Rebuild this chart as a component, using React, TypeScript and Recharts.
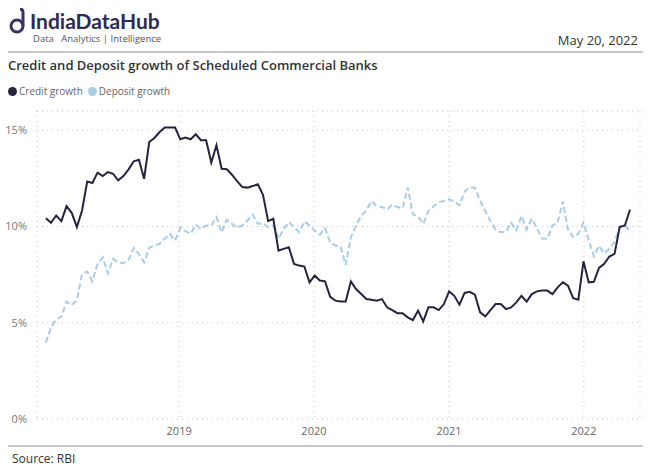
import React from "react";
import { CartesianGrid, Line, LineChart, XAxis, YAxis } from "recharts";

// fortnightly reporting dates, 5 Jan 2018 to 6 May 2022
const firstDate = Date.UTC(2018, 0, 5);
const fortnight = 14 * 24 * 3600 * 1000;

const creditGrowth = [
	10.43, 10.19, 10.57, 10.28, 11.06, 10.71, 9.97, 10.83, 12.34, 12.26,
	12.8, 12.62, 12.83, 12.74, 12.4, 12.62, 12.97, 13.39, 13.47, 12.48,
	14.39, 14.6, 14.91, 15.14, 15.14, 15.14, 14.53, 14.62, 14.53, 14.79,
	14.48, 14.48, 13.32, 14.22, 13.0, 12.97, 12.69, 12.36, 12.05, 12.02,
	12.1, 12.19, 11.65, 10.28, 10.4, 8.75, 8.84, 8.92, 8.06, 7.97,
	7.92, 7.1, 7.45, 7.19, 7.15, 6.35, 6.15, 6.1, 6.1, 7.15,
	6.75, 6.49, 6.23, 6.2, 6.15, 6.23, 5.8, 5.66, 5.5, 5.5,
	5.28, 5.14, 5.63, 5.07, 5.8, 5.8, 5.66, 5.97, 6.63, 6.4,
	5.94, 6.55, 6.61, 6.46, 5.54, 5.33, 5.66, 5.97, 5.97, 5.71,
	5.8, 6.06, 6.4, 6.1, 6.49, 6.63, 6.67, 6.67, 6.49, 6.84,
	7.1, 6.93, 6.28, 6.2, 8.19, 7.1, 7.13, 7.85, 8.06, 8.44,
	8.58, 9.97, 10.05, 10.87,
];

const depositGrowth = [
	3.97, 4.76, 5.19, 5.31, 6.1, 5.92, 6.18, 7.53, 7.66, 7.15,
	8.06, 8.4, 7.57, 8.32, 8.14, 8.09, 8.28, 8.89, 8.58, 8.14,
	8.89, 9.01, 9.1, 9.36, 9.62, 9.27, 9.93, 9.76, 9.62, 10.09,
	9.88, 10.05, 10.05, 10.49, 9.7, 10.35, 10.14, 9.93, 10.05, 10.31,
	10.61, 10.14, 10.17, 9.97, 10.05, 9.36, 9.88, 10.23, 9.97, 9.7,
	10.26, 10.05, 9.79, 9.58, 9.91, 9.18, 9.01, 8.96, 8.0, 9.44,
	10.05, 10.57, 10.83, 11.32, 11.06, 11.01, 10.89, 11.13, 11.01, 10.95,
	12.02, 10.63, 10.52, 10.14, 10.8, 11.05, 11.25, 11.33, 11.42, 11.3,
	11.1, 11.8, 12.05, 12.0, 11.35, 10.8, 10.28, 9.85, 9.7, 9.72,
	10.2, 9.8, 10.55, 9.85, 10.4, 9.9, 9.38, 9.36, 10.05, 10.2,
	11.3, 9.85, 9.45, 9.62, 10.2, 9.3, 8.45, 9.0, 8.6, 8.84,
	9.2, 10.0, 10.05, 9.76,
];

const yearTicks = [2019, 2020, 2021, 2022];
const yTicks = [0, 5, 10, 15];

const data = creditGrowth.map((c, i) => ({
	date: firstDate + i * fortnight,
	credit: c,
	deposit: depositGrowth[i],
}));

const xTicks = yearTicks.map((y) => Date.UTC(y, 0, 1));

const font = "'Segoe UI', 'Open Sans', sans-serif";
const navy = "#252440";
const lightBlue = "#a8cde9";

export default function App() {
	return (
		<div
			style={{
				position: "absolute",
				left: 0,
				top: 0,
				width: 650,
				height: 472,
				background: "#fff",
				fontFamily: font,
				overflow: "hidden",
			}}
		>
			{/* logo */}
			<svg
				width={18}
				height={28}
				style={{ position: "absolute", left: 9, top: 8 }}
			>
				<circle cx={8} cy={18} r={6} fill="none" stroke="#3a3560" strokeWidth={3} />
				<path d="M14 18 V4 Q14 1 11 1" fill="none" stroke="#3a3560" strokeWidth={3} />
			</svg>
			<div
				style={{
					position: "absolute",
					left: 30,
					top: 9,
					fontFamily: "Lato, sans-serif",
					fontWeight: 700,
					fontSize: 21,
					color: "#2e2a52",
					lineHeight: "23px",
				}}
			>
				IndiaDataHub
			</div>
			<div
				style={{
					position: "absolute",
					left: 33,
					top: 33,
					fontSize: 9.5,
					color: "#555",
					lineHeight: "11px",
					whiteSpace: "pre",
				}}
			>
				{"Data   Analytics | Intelligence"}
			</div>
			<div
				style={{
					position: "absolute",
					right: 12,
					top: 31,
					fontSize: 13,
					color: "#333",
					lineHeight: "18px",
				}}
			>
				May 20, 2022
			</div>
			<div
				style={{
					position: "absolute",
					left: 8,
					top: 51,
					width: 635,
					height: 2,
					background: "#c8c8c8",
				}}
			/>
			<div
				style={{
					position: "absolute",
					left: 8,
					top: 56,
					fontSize: 13,
					fontWeight: 600,
					color: "#333",
					lineHeight: "18px",
				}}
			>
				Credit and Deposit growth of Scheduled Commercial Banks
			</div>
			{/* legend */}
			<div
				style={{
					position: "absolute",
					left: 8,
					top: 84,
					display: "flex",
					alignItems: "center",
					fontSize: 10,
					color: "#666",
					lineHeight: "14px",
				}}
			>
				<span
					style={{
						width: 9,
						height: 9,
						borderRadius: "50%",
						background: navy,
						marginRight: 2,
					}}
				/>
				<span style={{ marginRight: 5 }}>Credit growth</span>
				<span
					style={{
						width: 9,
						height: 9,
						borderRadius: "50%",
						background: lightBlue,
						marginRight: 2,
					}}
				/>
				<span>Deposit growth</span>
			</div>

			<div style={{ position: "absolute", left: 0, top: 0 }}>
				<LineChart
					width={650}
					height={472}
					data={data}
					margin={{ top: 111, right: 10, bottom: 28, left: 7 }}
				>
					<CartesianGrid
						stroke="#c4c4c4"
						strokeDasharray="1 4"
						vertical={true}
						horizontal={true}
					/>
					<XAxis
						dataKey="date"
						type="number"
						scale="time"
						domain={[Date.UTC(2017, 11, 12), Date.UTC(2022, 5, 2)]}
						ticks={xTicks}
						tickFormatter={(v) => String(new Date(v).getUTCFullYear())}
						tick={{ fontSize: 11, fill: "#666", fontFamily: font }}
						tickLine={false}
						axisLine={false}
						height={25}
						allowDataOverflow
					/>
					<YAxis
						domain={[0, 16]}
						ticks={yTicks}
						tickFormatter={(v) => `${v}%`}
						tick={{ fontSize: 11, fill: "#777", fontFamily: font }}
						tickLine={false}
						axisLine={false}
						tickMargin={4}
						width={30}
					/>
					<Line
						type="linear"
						dataKey="deposit"
						stroke={lightBlue}
						strokeWidth={2}
						strokeDasharray="6 3"
						dot={false}
						isAnimationActive={false}
					/>
					<Line
						type="linear"
						dataKey="credit"
						stroke={navy}
						strokeWidth={2}
						dot={false}
						isAnimationActive={false}
					/>
				</LineChart>
			</div>

			<div
				style={{
					position: "absolute",
					left: 8,
					top: 445,
					width: 635,
					height: 2,
					background: "#c8c8c8",
				}}
			/>
			<div
				style={{
					position: "absolute",
					left: 12,
					top: 451,
					fontSize: 12,
					color: "#333",
					lineHeight: "16px",
				}}
			>
				Source: RBI
			</div>
		</div>
	);
}
